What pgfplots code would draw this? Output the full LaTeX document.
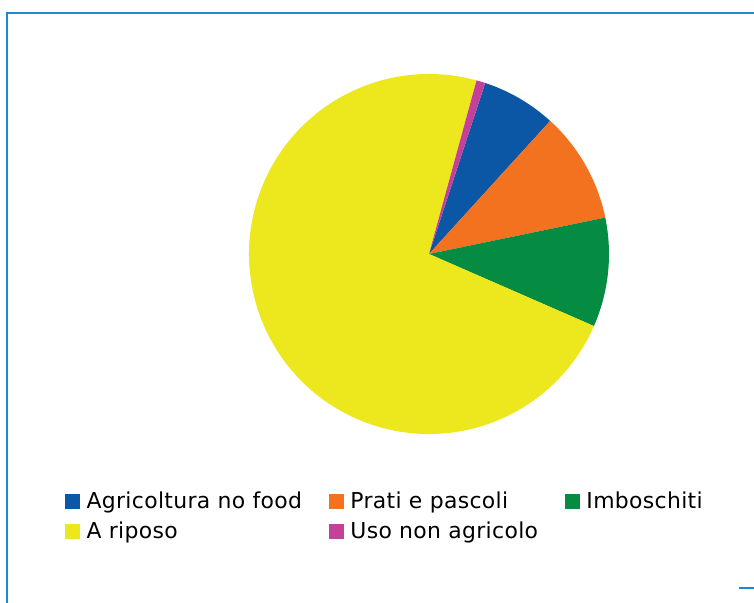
\documentclass[border=0pt]{standalone}
\usepackage{pgfplots}
\pgfplotsset{compat=1.18}
\usepackage{fontspec}
\setmainfont{DejaVu Sans}
\newfontfamily\legfont[LetterSpace=1.5]{DejaVu Sans}
\definecolor{cBlue}{RGB}{12,86,166}
\definecolor{cOrange}{RGB}{243,114,32}
\definecolor{cGreen}{RGB}{6,140,66}
\definecolor{cYellow}{RGB}{237,231,29}
\definecolor{cMagenta}{RGB}{196,64,153}
\definecolor{cFrame}{RGB}{28,138,210}
\begin{document}
\begin{tikzpicture}
\begin{axis}[
  width=754bp, height=603bp, scale only axis,
  xmin=0, xmax=754, ymin=0, ymax=603,
  hide axis, clip=false,
  legend columns=3,
  legend cell align=left,
  legend style={at={(axis cs:65,112)}, anchor=north west, draw=none, fill=none,
    inner sep=0pt, font=\legfont\fontsize{22}{25}\selectfont,
    nodes={inner xsep=0pt, inner ysep=1bp},
    /tikz/every odd column/.append style={column sep=7bp},
    /tikz/every even column/.append style={column sep=27bp},
    row sep=10bp},
  legend image code/.code={\fill[#1] (0bp,-7bp) rectangle (14bp,7bp);},
]
\coordinate (C) at (axis cs:429,349);
\addlegendimage{cBlue}\addlegendentry{Agricoltura no food}
\addlegendimage{cOrange}\addlegendentry{Prati e pascoli}
\addlegendimage{cGreen}\addlegendentry{Imboschiti}
\addlegendimage{cYellow}\addlegendentry{A riposo}
\addlegendimage{cMagenta}\addlegendentry{Uso non agricolo}
\end{axis}
% pie slices (percent), clockwise from the start angle
\xdef\ang{71.8}
\foreach \v/\c in {6.7/cBlue, 10.0/cOrange, 9.8/cGreen, 72.7/cYellow, 0.8/cMagenta}{
  \pgfmathsetmacro\e{\ang-3.6*\v}
  \fill[\c] (C) -- ([shift={(\ang:180bp)}]C) arc[start angle=\ang, end angle=\e, radius=180bp] -- cycle;
  \xdef\ang{\e}
}
% frame
\draw[cFrame, line width=2bp] (6.5bp,0bp) -- (6.5bp,589.5bp) -- (754bp,589.5bp);
\draw[cFrame, line width=2bp] (739bp,15bp) -- (754bp,15bp);
\pgfresetboundingbox
\useasboundingbox (0,0) rectangle (754bp,603bp);
\end{tikzpicture}
\end{document}
